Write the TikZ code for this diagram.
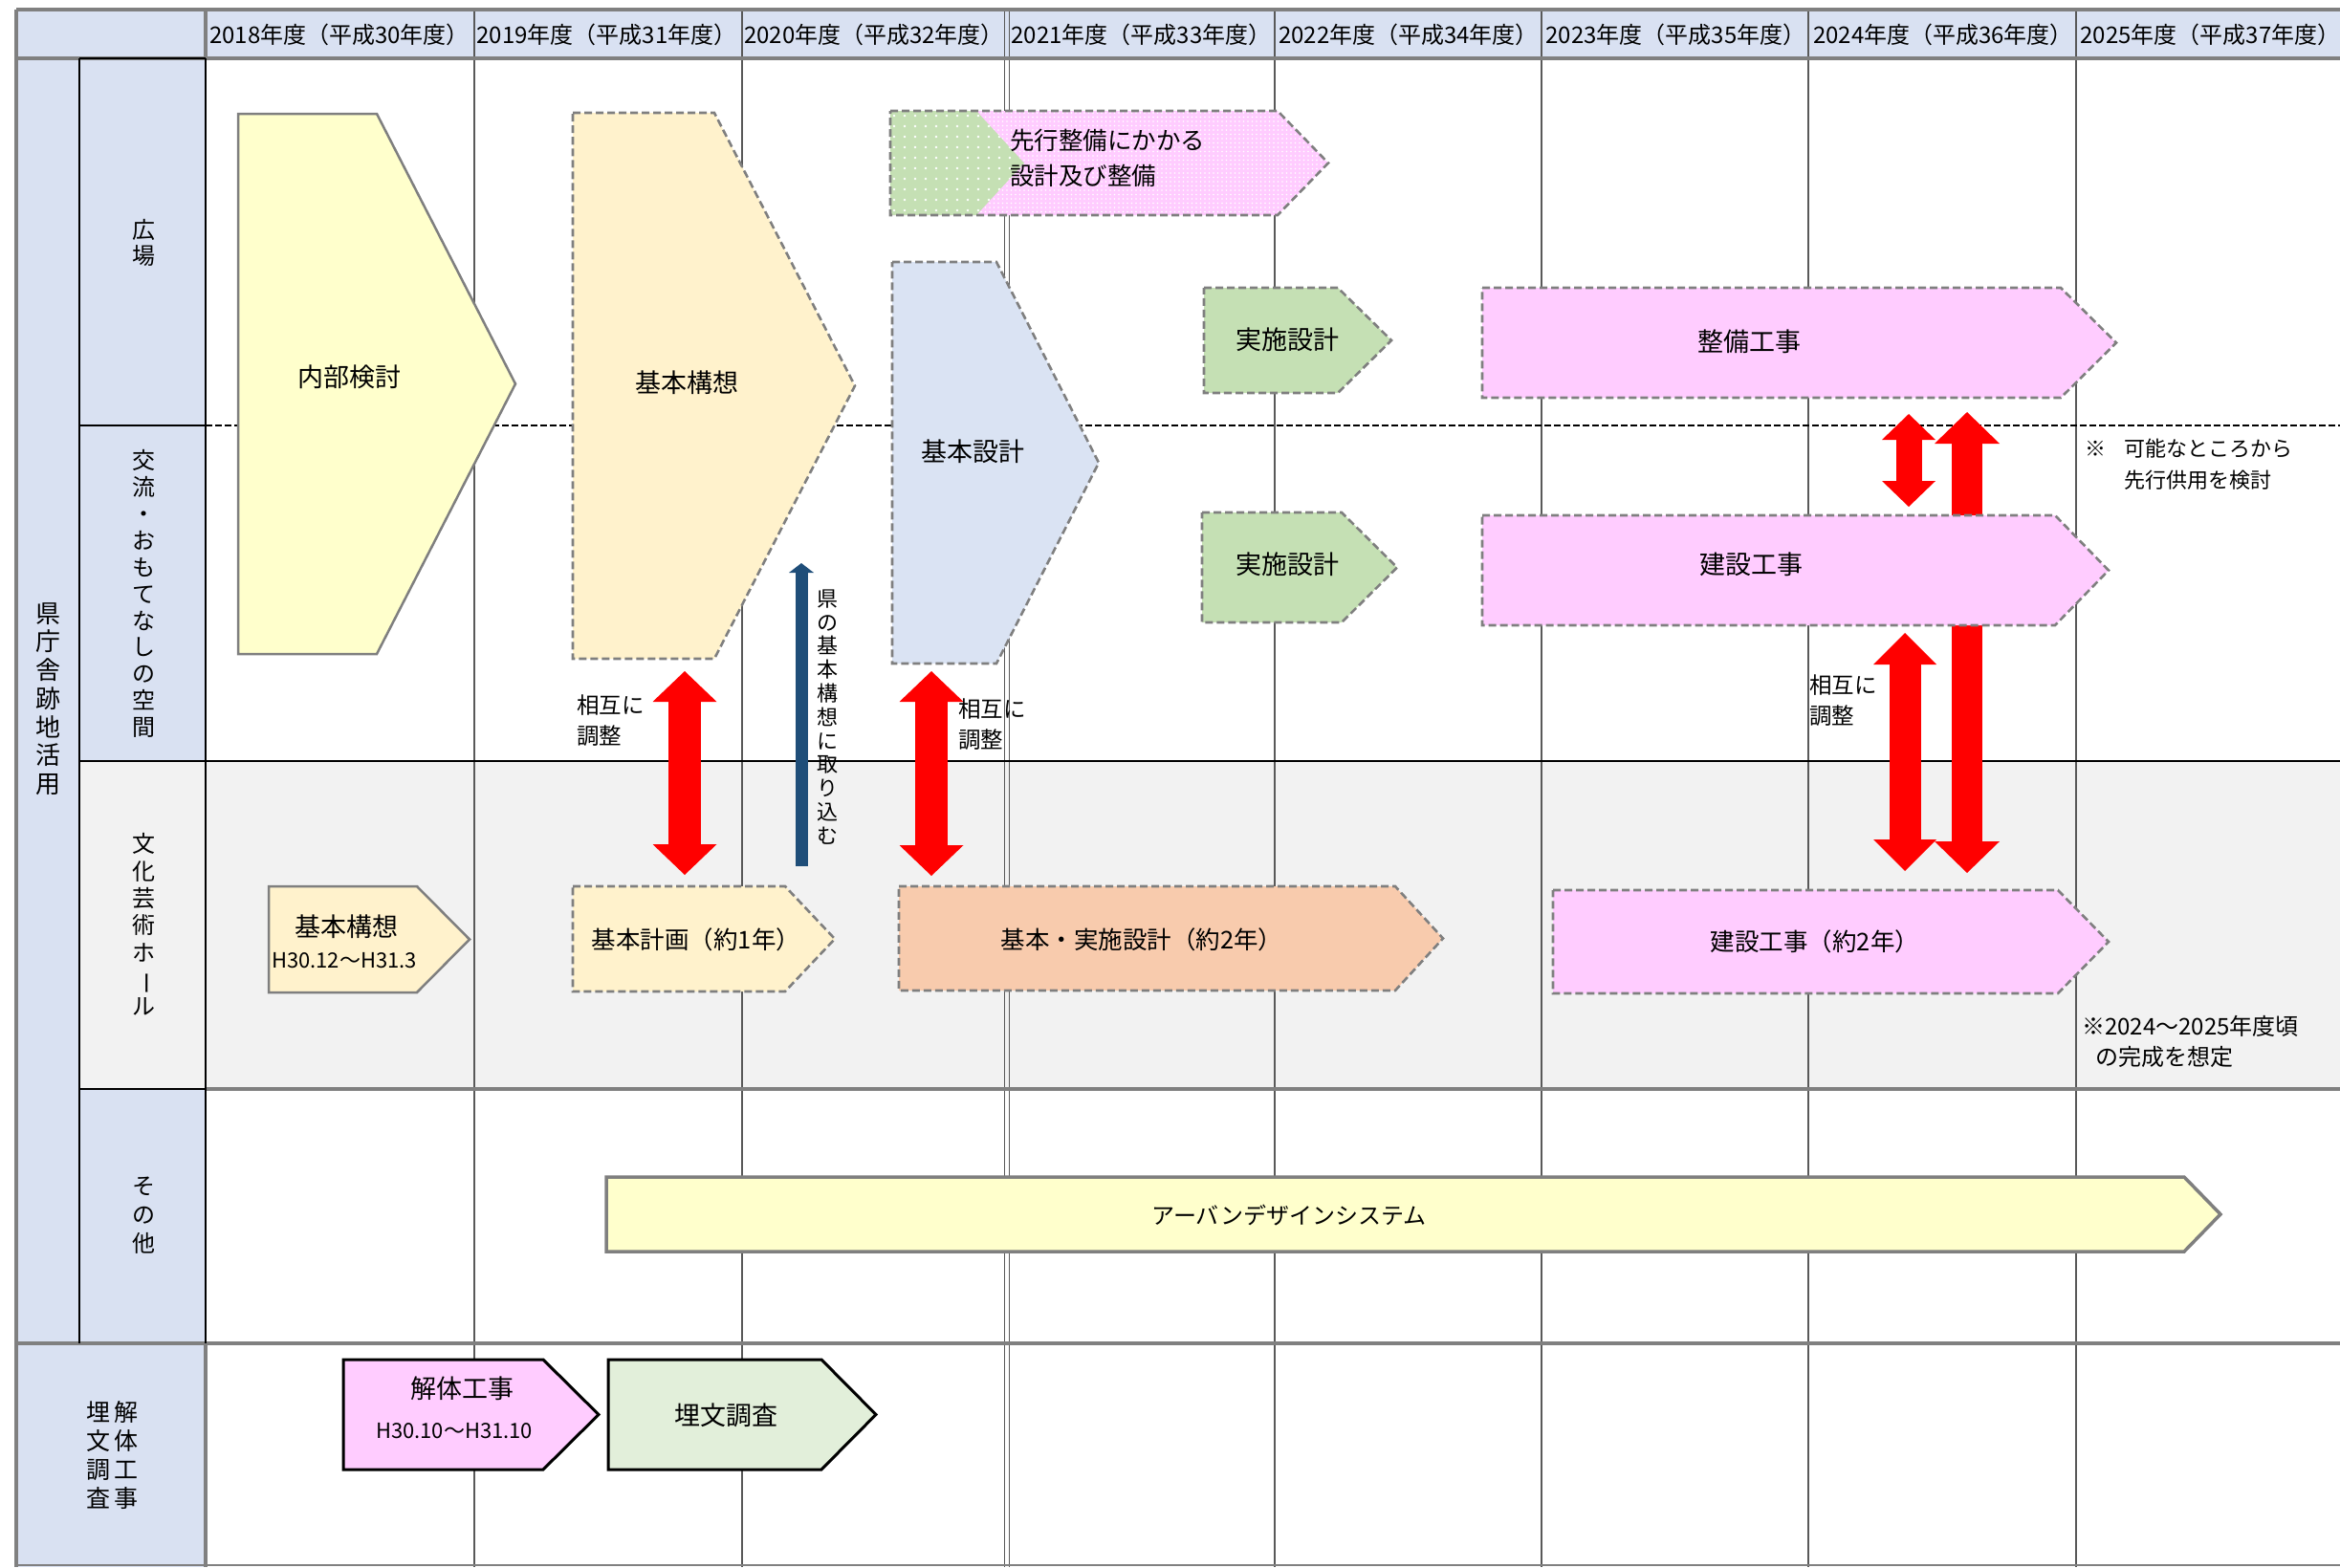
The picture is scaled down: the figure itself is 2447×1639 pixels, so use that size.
\documentclass[tikz,border=0pt]{standalone}
\usepackage{fontspec}
\setmainfont{Noto Sans CJK JP}
\usepackage{xcolor}
\usepackage{tikz}
\usetikzlibrary{arrows.meta,patterns.meta}

\definecolor{hdrblue}{HTML}{D9E1F2}
\definecolor{rowgray}{HTML}{F2F2F2}
\definecolor{paleyellow}{HTML}{FFFFCC}
\definecolor{cream}{HTML}{FFF2CC}
\definecolor{paleblue}{HTML}{DAE3F3}
\definecolor{palegreen}{HTML}{C5E0B4}
\definecolor{palepink}{HTML}{FFCCFF}
\definecolor{salmon}{HTML}{F8CBAD}
\definecolor{mintgreen}{HTML}{E2EFDA}
\definecolor{navyarrow}{HTML}{1F4E79}
\definecolor{framegray}{HTML}{808080}
\definecolor{boxgray}{HTML}{7F7F7F}

% chevron: [style]{left}{top}{corner x}{tip x}{bottom}
\newcommand{\chev}[6][]{%
  \draw[#1] (#2,#3) -- (#4,#3) -- (#5,{(#3+#6)/2}) -- (#4,#6) -- (#2,#6) -- cycle;}

\tikzset{
  frame/.style={draw=framegray, line width=4.5pt},
  blk/.style={draw=black, line width=2.5pt},
  yearline/.style={draw=black!65, line width=1.2pt},
  zoneline/.style={draw=black, line width=2pt, dash pattern=on 7pt off 3pt},
  dashbox/.style={draw=boxgray, line width=2.6pt, dash pattern=on 8pt off 4pt},
  solidbox/.style={draw=boxgray, line width=2.5pt},
  urbanbox/.style={draw=boxgray, line width=3.5pt},
  blackbox/.style={draw=black, line width=3pt},
  lbl/.style={font=\fontsize{27}{32}\selectfont, inner sep=0pt},
  wide/.style={font=\fontsize{25.5}{30}\selectfont},
  datelbl/.style={font=\fontsize{22}{26}\selectfont, inner sep=0pt},
  note/.style={font=\fontsize{23.5}{32}\selectfont, align=left, inner sep=0pt, anchor=west},
  hdr/.style={font=\fontsize{24}{28}\selectfont, inner sep=0pt},
  vlab/.style={font=\fontsize{24}{28}\selectfont, align=center, inner sep=0pt},
  redarr/.style n args={3}{color=red, line width=#1,
    {Triangle[width=#2,length=#3,line width=0pt]}-{Triangle[width=#2,length=#3,line width=0pt]}},
}

\begin{document}
\begin{tikzpicture}[x=1pt,y=-1pt]
\useasboundingbox (0,0) rectangle (2447,1639);

% backgrounds
\fill[hdrblue] (17,10) rectangle (2447,61);
\fill[hdrblue] (17,61) rectangle (215,1639);
\fill[rowgray] (83,796) rectangle (2447,1139);

% year columns
\foreach \x in {496,776,1333,1612,1891,2171}
  \draw[yearline] (\x,10) -- (\x,1639);
\draw[yearline] (1050.5,10) -- (1050.5,1639);
\draw[yearline] (1055.5,10) -- (1055.5,1639);

\foreach \yr [count=\i from 0] in {2018,...,2025} {
  \pgfmathtruncatemacro{\hs}{\yr-1988}
  \node[hdr] (y\yr) at ({355+279.5*\i},36) {\yr 年度（平成\hs 年度）};
}

% frame
\draw[frame] (17,10) -- (2447,10);
\draw[frame] (17,61) -- (2447,61);
\draw[frame] (17,10) -- (17,1639);
\draw[frame] (215,10) -- (215,61);
\draw[frame] (215,1139) -- (2447,1139);
\draw[frame] (17,1405) -- (2447,1405);
\draw[frame] (215,1405) -- (215,1639);
\draw[draw=framegray, line width=1.5pt] (17,1637) -- (2447,1637);
\draw[blk] (83,61) -- (215,61);
\draw[blk] (83,61) -- (83,1405);
\draw[blk] (215,61) -- (215,1405);
\draw[blk] (83,445) -- (215,445);
\draw[blk] (83,796) -- (2447,796);
\draw[blk] (83,1139) -- (215,1139);
\draw[zoneline] (215,445) -- (2447,445);

% row labels
\node[vlab, font=\fontsize{26}{29.7}\selectfont] (kenchou) at (50,731) {県\\庁\\舎\\跡\\地\\活\\用};
\node[vlab, font=\fontsize{24}{27}\selectfont] (hiroba) at (150,254) {広\\場};
\node[vlab, font=\fontsize{24}{27.9}\selectfont] (kouryu) at (150,621) {交\\流\\・\\お\\も\\て\\な\\し\\の\\空\\間};
\node[vlab, font=\fontsize{24}{28.3}\selectfont] (bunka) at (150,967) {文\\化\\芸\\術\\ホ\\\rotatebox[origin=c]{-90}{ー}\\ル};
\node[vlab, font=\fontsize{24}{30}\selectfont] (sonota) at (150,1271) {そ\\の\\他};
\node[vlab, font=\fontsize{25}{30}\selectfont] (kaitaiL) at (132,1522) {解\\体\\工\\事};
\node[vlab, font=\fontsize{25}{30}\selectfont] (maibunL) at (103,1522) {埋\\文\\調\\査};

% arrow behind 建設工事
\coordinate (r4t) at (2057,431);
\coordinate (r4b) at (2057,913);
\path[redarr={32pt}{68pt}{33pt}] (r4t) edge (r4b);

% 広場 / 交流
\chev[solidbox, fill=paleyellow]{249}{119}{394}{539}{684}
\node[lbl] (naibu) at (365,394) {内部検討};
\chev[dashbox, fill=cream]{599}{118}{747}{894}{689}
\node[lbl] (kousou) at (718,400) {基本構想};
\chev[draw=none, fill=palepink, postaction={pattern color=white, pattern={Dots[distance=4.5pt,radius=0.9pt]}}]{931}{116}{1336}{1389}{225}
\chev[draw=none, fill=palegreen, postaction={pattern color=white, pattern={Dots[distance=11pt,radius=1.3pt]}}]{931}{116}{1021}{1071}{225}
\chev[dashbox]{931}{116}{1336}{1389}{225}
\node[lbl, align=left, anchor=west, font=\fontsize{25.5}{37}\selectfont] (senkou) at (1056,165) {先行整備にかかる\\設計及び整備};
\chev[dashbox, fill=paleblue]{933}{274}{1042}{1149}{694}
\node[lbl] (kihon) at (1017,472) {基本設計};
\chev[dashbox, fill=palegreen]{1259}{301}{1399}{1455}{411}
\node[lbl] (jisshiA) at (1346,355) {実施設計};
\chev[dashbox, fill=palegreen]{1257}{536}{1403}{1461}{651}
\node[lbl] (jisshiB) at (1346,590) {実施設計};
\chev[dashbox, fill=palepink]{1550}{301}{2155}{2213}{416}
\node[lbl] (seibi) at (1829,357) {整備工事};
\chev[dashbox, fill=palepink]{1550}{539}{2149}{2205}{654}
\node[lbl] (kensetsu) at (1831,590) {建設工事};

% 文化芸術ホール
\chev[solidbox, fill=cream]{281}{927}{436}{491}{1038}
\node[lbl] (hkousou) at (362,969) {基本構想};
\node[datelbl] (hkousoud) at (360,1005) {H30.12～H31.3};
\chev[dashbox, fill=cream]{599}{927}{821}{873}{1037}
\node[lbl, wide] (keikaku) at (728,983) {基本計画（約1年）};
\chev[dashbox, fill=salmon]{940}{927}{1459}{1509}{1036}
\node[lbl, wide] (hjisshi) at (1194,983) {基本・実施設計（約2年）};
\chev[dashbox, fill=palepink]{1624}{931}{2152}{2205}{1039}
\node[lbl, wide] (hkensetsu) at (1898,985) {建設工事（約2年）};

% その他
\chev[urbanbox, fill=paleyellow]{634}{1231}{2284}{2322}{1309}
\node[lbl, font=\fontsize{24}{30}\selectfont] (urban) at (1348,1271) {アーバンデザインシステム};

% 埋文調査・解体工事
\chev[blackbox, fill=palepink]{359}{1422}{568}{626}{1537}
\node[lbl] (kaitai) at (483,1452) {解体工事};
\node[datelbl] (kaitaid) at (475,1497) {H30.10～H31.10};
\chev[blackbox, fill=mintgreen]{636}{1422}{859}{916}{1537}
\node[lbl] (maibun) at (759,1480) {埋文調査};

% connectors
\coordinate (r1t) at (716,702);
\coordinate (r1b) at (716,915);
\coordinate (r2t) at (974,702);
\coordinate (r2b) at (974,916);
\coordinate (r3t) at (1996,433);
\coordinate (r3b) at (1996,530);
\coordinate (r5t) at (1992,662);
\coordinate (r5b) at (1992,911);
\coordinate (bk1) at (838,906);
\coordinate (bk2) at (838,589);

\path[redarr={34pt}{67pt}{32pt}]
    (r1t) edge (r1b)
    (r2t) edge (r2b);
\path[redarr={27pt}{56pt}{27pt}] (r3t) edge (r3b);
\path[redarr={33pt}{66pt}{33pt}] (r5t) edge (r5b);
\path[color=navyarrow, line width=13pt, -{Triangle[width=26pt,length=10pt,line width=0pt]}]
    (bk1) edge (bk2);

\node[vlab, font=\fontsize{22}{24.8}\selectfont] (torikomi) at (865,750) {県\\の\\基\\本\\構\\想\\に\\取\\り\\込\\む};
\node[note] (sougoA) at (603,754) {相互に\\調整};
\node[note] (sougoB) at (1002,758) {相互に\\調整};
\node[note] (sougoC) at (1892,733) {相互に\\調整};
\node[note, font=\fontsize{22}{33}\selectfont] (senkoukyou) at (2180,486) {\makebox[41pt][l]{※}可能なところから\\\hspace*{41pt}先行供用を検討};
\node[note, font=\fontsize{24}{32}\selectfont] (kansei) at (2177,1089) {※2024～2025年度頃\\\hspace*{14pt}の完成を想定};
\end{tikzpicture}
\end{document}
